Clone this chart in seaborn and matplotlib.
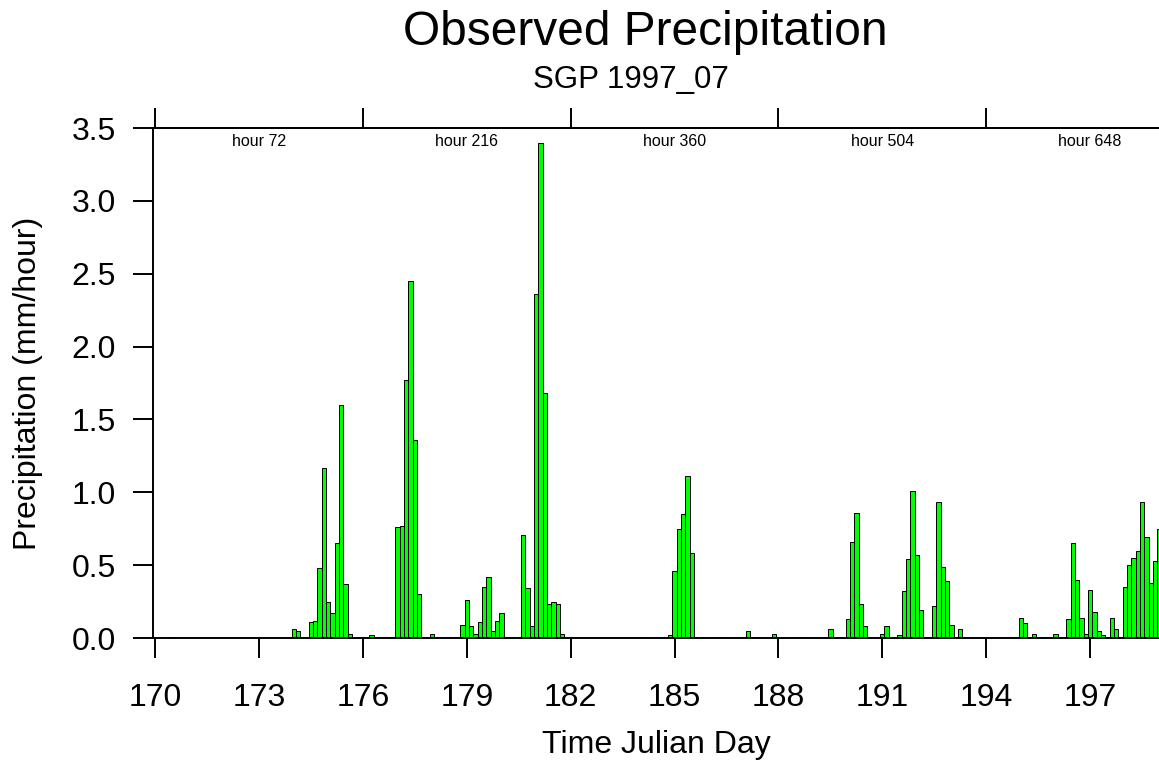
import numpy as np
import pandas as pd
import matplotlib
matplotlib.use("Agg")
import matplotlib.pyplot as plt
import matplotlib.transforms as mtransforms
from matplotlib.ticker import FormatStrFormatter
import seaborn as sns

# 3-hourly observed precipitation (mm/hour), one row of 8 values per Julian day
start_day = 170
steps_per_day = 8
precip = [
    0, 0, 0, 0, 0.01, 0, 0, 0,                      # 170
    0, 0, 0, 0, 0, 0, 0, 0,                         # 171
    0, 0, 0, 0, 0, 0, 0, 0,                         # 172
    0, 0, 0, 0, 0, 0, 0, 0,                         # 173
    0.06, 0.05, 0, 0, 0.11, 0.12, 0.48, 1.17,       # 174
    0.25, 0.17, 0.65, 1.60, 0.37, 0.03, 0, 0,       # 175
    0, 0, 0.02, 0, 0, 0, 0, 0.01,                   # 176
    0.76, 0.77, 1.77, 2.45, 1.36, 0.30, 0, 0.005,   # 177
    0.03, 0, 0, 0, 0, 0, 0, 0.09,                   # 178
    0.26, 0.08, 0.03, 0.11, 0.35, 0.42, 0.05, 0.12, # 179
    0.17, 0, 0, 0, 0, 0.71, 0.34, 0.08,             # 180
    2.36, 3.40, 1.68, 0.23, 0.25, 0.23, 0.03, 0,    # 181
    0, 0, 0, 0, 0, 0, 0, 0,                         # 182
    0, 0, 0, 0, 0, 0, 0, 0,                         # 183
    0, 0, 0, 0, 0, 0, 0, 0.02,                      # 184
    0.46, 0.75, 0.85, 1.11, 0.58, 0.005, 0, 0,      # 185
    0, 0, 0, 0, 0, 0, 0, 0,                         # 186
    0, 0.05, 0.01, 0, 0, 0, 0, 0.03,                # 187
    0, 0, 0, 0, 0, 0, 0, 0,                         # 188
    0, 0, 0, 0, 0.06, 0, 0, 0,                      # 189
    0.13, 0.66, 0.86, 0.23, 0.08, 0, 0, 0,          # 190
    0.03, 0.08, 0, 0, 0.02, 0.32, 0.54, 1.01,       # 191
    0.57, 0.19, 0.005, 0, 0.22, 0.93, 0.49, 0.39,   # 192
    0.09, 0.01, 0.065, 0, 0, 0, 0, 0,               # 193
    0, 0, 0, 0, 0, 0, 0, 0,                         # 194
    0.14, 0.10, 0.01, 0.03, 0, 0, 0.01, 0,          # 195
    0.03, 0, 0, 0.13, 0.65, 0.40, 0.14, 0.03,       # 196
    0.33, 0.18, 0.05, 0.02, 0.01, 0.14, 0.06, 0.01, # 197
    0.35, 0.50, 0.55, 0.60, 0.93, 0.69, 0.38, 0.53, # 198
    0.75,                                           # 199
]

x_ticks = [170, 173, 176, 179, 182, 185, 188, 191, 194, 197]
y_ticks = [0.0, 0.5, 1.0, 1.5, 2.0, 2.5, 3.0, 3.5]
top_tick_hours = [0, 144, 288, 432, 576]
hour_labels = [72, 216, 360, 504, 648]

day = start_day + np.arange(len(precip)) / steps_per_day
df = pd.DataFrame({"day": day, "precip": precip})

sns.set_theme(style="ticks")
plt.rcParams["font.family"] = ["Liberation Sans", "DejaVu Sans"]
plt.rcParams["text.color"] = "black"
plt.rcParams["axes.edgecolor"] = "black"
plt.rcParams["xtick.color"] = "black"
plt.rcParams["ytick.color"] = "black"

W, H = 1159, 763
fig = plt.figure(figsize=(W / 100, H / 100), dpi=100)
ax_left, ax_right, ax_top, ax_bottom = 153, 1161.5, 128, 638
ax = fig.add_axes([ax_left / W, 1 - ax_bottom / H,
                   (ax_right - ax_left) / W, (ax_bottom - ax_top) / H])

# one bar per 3-hour step, centred on its time stamp
bar_w = 1.0 / steps_per_day
x_lo = day[0] - bar_w / 2
x_hi = day[-1] + bar_w / 2
sns.histplot(data=df, x="day", weights="precip", binwidth=bar_w,
             binrange=(x_lo, x_hi), color="#00ff00", edgecolor="black",
             linewidth=0.7, alpha=1.0, ax=ax)

ax.set_xlim(x_lo, x_hi)
ax.set_ylim(0, 3.5)
ax.set_xticks(x_ticks)
ax.set_yticks(y_ticks)
ax.yaxis.set_major_formatter(FormatStrFormatter("%.1f"))
ax.set_xlabel("")
ax.set_ylabel("")
for side in ["left", "right", "top", "bottom"]:
    ax.spines[side].set_linewidth(1.4)
    ax.spines[side].set_color("black")
ax.tick_params(axis="x", direction="out", length=14.5, width=1.4,
               pad=18, labelsize=23, bottom=True, top=False)
ax.tick_params(axis="y", direction="out", length=14.5, width=1.4,
               pad=12, labelsize=23, left=True, right=False)

# upper axis: ticks every 144 hours, hour labels inside the frame
top = ax.secondary_xaxis("top")
top.set_xticks([start_day + h / 24 for h in top_tick_hours])
top.set_xticklabels([])
top.tick_params(direction="out", length=14.5, width=1.4)
top.spines["top"].set_linewidth(1.4)

trans = mtransforms.blended_transform_factory(ax.transData, ax.transAxes)
for h in hour_labels:
    ax.text(start_day + h / 24, 1 - 14 / (ax_bottom - ax_top), f"hour {h}",
            transform=trans, ha="center", va="center", fontsize=11.5)

fig.text(645 / W, 1 - 45 / H, "Observed Precipitation",
         ha="center", va="baseline", fontsize=34.5)
fig.text(631 / W, 1 - 88 / H, "SGP 1997_07",
         ha="center", va="baseline", fontsize=22.5)
fig.text(656 / W, 1 - 753 / H, "Time Julian Day",
         ha="center", va="baseline", fontsize=23)
fig.text(28 / W, 1 - 383 / H, "Precipitation (mm/hour)",
         ha="center", va="center", rotation=90, fontsize=23)

fig.savefig("out.png", dpi=100)
